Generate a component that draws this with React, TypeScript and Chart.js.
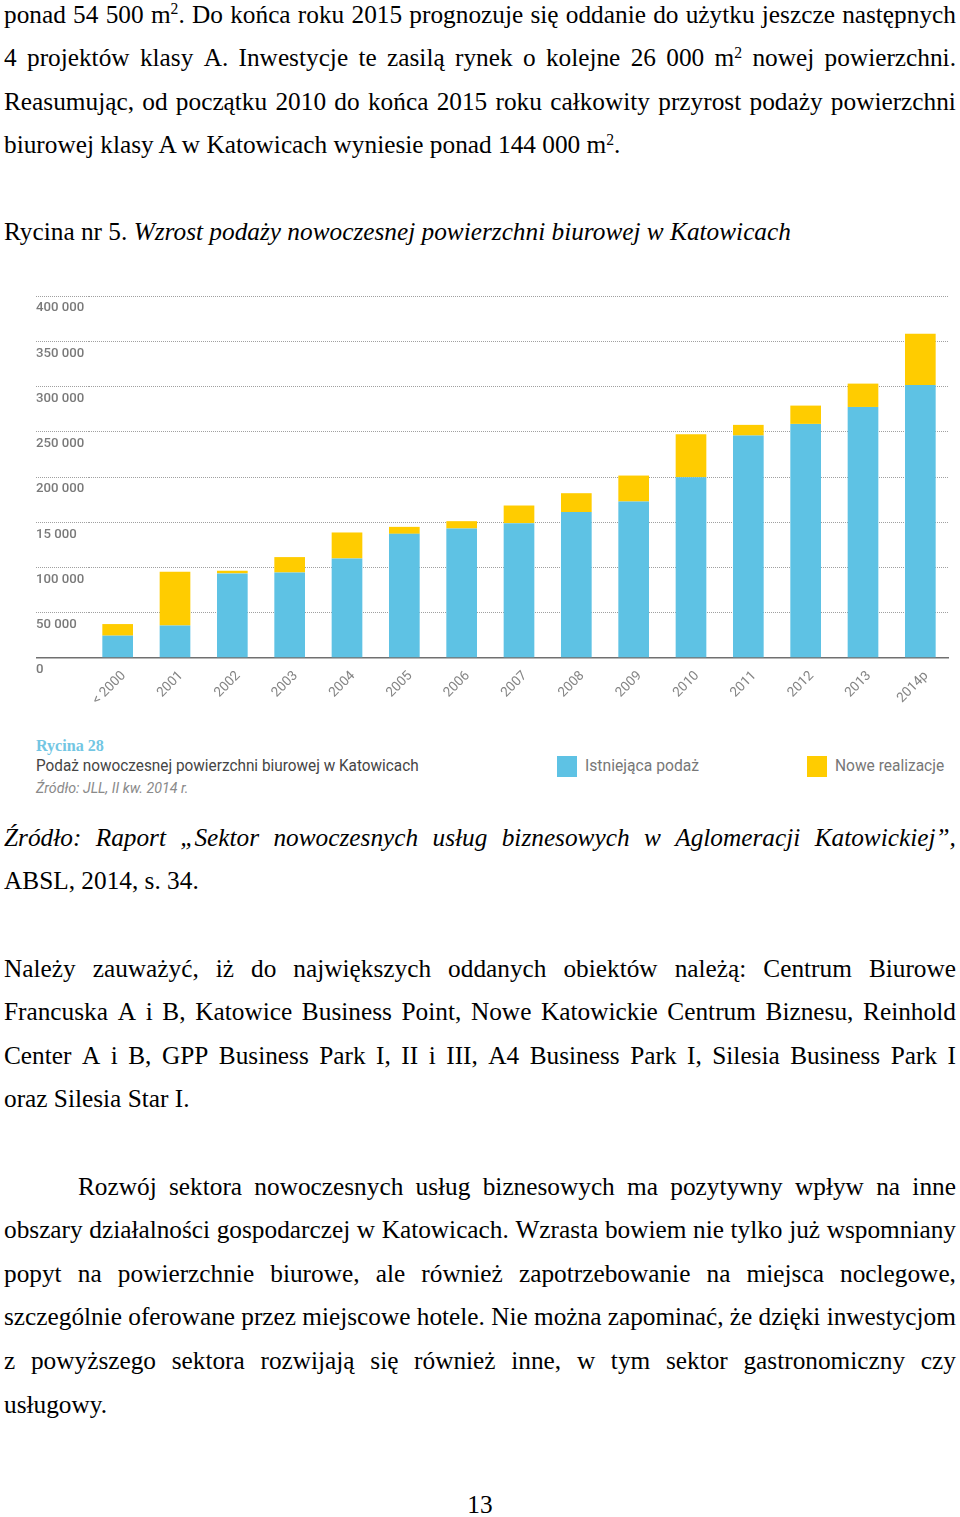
import React, { useEffect, useRef } from "react";
import { Chart, registerables } from "chart.js";

Chart.register(...registerables);

// ---- chart data ----
const categories = ["< 2000", "2001", "2002", "2003", "2004", "2005", "2006", "2007", "2008", "2009", "2010", "2011", "2012", "2013", "2014p"];
const existingSupply = [24700, 36000, 93500, 94500, 110000, 137200, 143100, 149000, 161200, 172900, 199800, 245800, 258700, 277400, 301700];
const newSupply = [12800, 59300, 2900, 17000, 28700, 7700, 8100, 19500, 20900, 28700, 47500, 11800, 20200, 25800, 56700];
const yTickLabels = ["0", "50 000", "100 000", "15 000", "200 000", "250 000", "300 000", "350 000", "400 000"];
const seriesNames = ["Istniejąca podaż", "Nowe realizacje"];

// ---- page text ----
const para1 = [
  "ponad 54 500 m^2. Do końca roku 2015 prognozuje się oddanie do użytku jeszcze następnych",
  "4 projektów klasy A. Inwestycje te zasilą rynek o kolejne 26 000 m^2 nowej powierzchni.",
  "Reasumując, od początku 2010 do końca 2015 roku całkowity przyrost podaży powierzchni",
  "biurowej klasy A w Katowicach wyniesie ponad 144 000 m^2.",
];
const figureLead = "Rycina nr 5. ";
const figureTitle = "Wzrost podaży nowoczesnej powierzchni biurowej w Katowicach";
const sourceLine1 = "Źródło: Raport „Sektor nowoczesnych usług biznesowych w Aglomeracji Katowickiej”,";
const sourceLine2 = "ABSL, 2014, s. 34.";
const para3 = [
  "Należy zauważyć, iż do największych oddanych obiektów należą: Centrum Biurowe",
  "Francuska A i B, Katowice Business Point, Nowe Katowickie Centrum Biznesu, Reinhold",
  "Center A i B, GPP Business Park I, II i III, A4 Business Park I, Silesia Business Park I",
  "oraz Silesia Star I.",
];
const para4 = [
  "Rozwój sektora nowoczesnych usług biznesowych ma pozytywny wpływ na inne",
  "obszary działalności gospodarczej w Katowicach. Wzrasta bowiem nie tylko już wspomniany",
  "popyt na powierzchnie biurowe, ale również zapotrzebowanie na miejsca noclegowe,",
  "szczególnie oferowane przez miejscowe hotele. Nie można zapominać, że dzięki inwestycjom",
  "z powyższego sektora rozwijają się również inne, w tym sektor gastronomiczny czy",
  "usługowy.",
];
const pageNumber = "13";
const captionNumber = "Rycina 28";
const captionTitle = "Podaż nowoczesnej powierzchni biurowej w Katowicach";
const captionSource = "Źródło: JLL, II kw. 2014 r.";

const BLUE = "#5ec2e4";
const YELLOW = "#ffcc00";
const SERIF = '"Liberation Serif", "Times New Roman", serif';
const SANS = 'Roboto, "Noto Sans", sans-serif';
const FS = 25.3;
const LH = 43.65;

function Word({ w }: { w: string }) {
  const parts = w.split("^");
  return (
    <span style={{ whiteSpace: "nowrap" }}>
      {parts[0]}
      {parts.length > 1 ? (
        <>
          <span style={{ fontSize: "0.62em", position: "relative", top: "-0.55em", lineHeight: 0 }}>{parts[1].charAt(0)}</span>
          {parts[1].slice(1)}
        </>
      ) : null}
    </span>
  );
}

function TextLine({ text, top, justify, italic, indent = 0 }: { text: string; top: number; justify: boolean; italic?: boolean; indent?: number }) {
  const words = text.split(" ");
  const base: React.CSSProperties = {
    position: "absolute",
    top,
    left: 4 + indent,
    width: 952 - indent,
    height: LH,
    lineHeight: LH + "px",
    fontFamily: SERIF,
    fontSize: FS,
    fontStyle: italic ? "italic" : "normal",
    color: "#000",
    whiteSpace: "nowrap",
  };
  if (justify) {
    return (
      <div style={{ ...base, display: "flex", justifyContent: "space-between", alignItems: "baseline" }}>
        {words.map((w, i) => (
          <Word key={i} w={w} />
        ))}
      </div>
    );
  }
  return (
    <div style={base}>
      {words.map((w, i) => (
        <React.Fragment key={i}>
          <Word w={w} />
          {i < words.length - 1 ? " " : ""}
        </React.Fragment>
      ))}
    </div>
  );
}

function Condensed({ text, left, top, size, scale, color, italic, weight }: { text: string; left: number; top: number; size: number; scale: number; color: string; italic?: boolean; weight?: number }) {
  return (
    <div
      style={{
        position: "absolute",
        left,
        top,
        fontFamily: SANS,
        fontSize: size,
        fontStyle: italic ? "italic" : "normal",
        fontWeight: weight || 400,
        lineHeight: "20px",
        color,
        whiteSpace: "nowrap",
        transform: `scaleX(${scale})`,
        transformOrigin: "left center",
      }}
    >
      {text}
    </div>
  );
}

function BarChart() {
  const ref = useRef<HTMLCanvasElement | null>(null);
  useEffect(() => {
    if (!ref.current) return;
    const isZero = (ctx: any) => ctx && ctx.tick && ctx.tick.value === 0;
    const chart = new Chart(ref.current, {
      type: "bar",
      data: {
        labels: categories,
        datasets: [
          { label: seriesNames[0], data: existingSupply, backgroundColor: BLUE, barPercentage: 0.535, categoryPercentage: 1, borderWidth: 0 },
          { label: seriesNames[1], data: newSupply, backgroundColor: YELLOW, barPercentage: 0.535, categoryPercentage: 1, borderWidth: 0 },
        ],
      },
      options: {
        animation: false,
        responsive: true,
        maintainAspectRatio: false,
        layout: { padding: { top: 16, left: 36, right: 11, bottom: 2 } },
        plugins: { legend: { display: false }, tooltip: { enabled: false } },
        scales: {
          x: {
            stacked: true,
            grid: { display: false, drawTicks: false },
            border: { display: false },
            ticks: {
              color: "#858585",
              font: { family: SANS, size: 13.5 },
              maxRotation: 45,
              minRotation: 45,
              autoSkip: false,
              padding: 10,
              labelOffset: 6,
            },
            afterFit: (s: any) => {
              s.height = 50;
            },
          },
          y: {
            stacked: true,
            min: 0,
            max: 400000,
            ticks: {
              stepSize: 50000,
              mirror: true,
              padding: -53,
              labelOffset: 12,
              color: "#7a7a7a",
              font: { family: SANS, size: 13.2, weight: "500" },
              callback: (_v: any, i: number) => yTickLabels[i],
            },
            grid: {
              color: (ctx: any) => (isZero(ctx) ? "#707070" : "#a0a0a0"),
              lineWidth: (ctx: any) => (isZero(ctx) ? 1.6 : 1),
              tickLength: 53,
              tickColor: (ctx: any) => (isZero(ctx) ? "#707070" : "#a0a0a0"),
              tickWidth: (ctx: any) => (isZero(ctx) ? 1.6 : 1),
              tickBorderDash: (ctx: any) => (isZero(ctx) ? [] : [1, 1]),
            },
            border: { display: false, dash: (ctx: any) => (isZero(ctx) ? [] : [1, 1]) },
            afterFit: (s: any) => {
              s.width = 53;
            },
          },
        },
      },
    } as any);
    return () => chart.destroy();
  }, []);
  return (
    <div style={{ position: "absolute", left: 0, top: 280, width: 960, height: 430 }}>
      <canvas ref={ref} />
    </div>
  );
}

export default function App() {
  const step = LH;
  return (
    <div style={{ position: "absolute", left: 0, top: 0, width: 960, height: 1517, background: "#fff", overflow: "hidden" }}>
      {para1.map((t, i) => (
        <TextLine key={"p1" + i} text={t} top={-7.5 + i * step} justify={i < para1.length - 1} />
      ))}
      <div style={{ position: "absolute", top: 210, left: 4, lineHeight: LH + "px", fontFamily: SERIF, fontSize: FS, whiteSpace: "nowrap" }}>
        {figureLead}
        <span style={{ fontStyle: "italic" }}>{figureTitle}</span>
      </div>

      <BarChart />

      {/* figure caption and legend */}
      <div style={{ position: "absolute", left: 36, top: 735, fontFamily: SERIF, fontSize: 17.5, fontWeight: 700, lineHeight: "20px", color: "#72c6e3", whiteSpace: "nowrap", transform: "scaleX(0.92)", transformOrigin: "left center" }}>
        {captionNumber}
      </div>
      <Condensed text={captionTitle} left={36} top={756} size={16.5} scale={0.93} color="#454545" />
      <Condensed text={captionSource} left={36} top={778} size={15} scale={0.95} color="#8a8a8a" italic />
      <div style={{ position: "absolute", left: 557, top: 756, width: 20, height: 21, background: BLUE }} />
      <Condensed text={seriesNames[0]} left={585} top={756} size={16.5} scale={0.95} color="#777" />
      <div style={{ position: "absolute", left: 807, top: 756, width: 20, height: 21, background: YELLOW }} />
      <Condensed text={seriesNames[1]} left={835} top={756} size={16.5} scale={0.94} color="#777" />

      <TextLine text={sourceLine1} top={815.5} justify italic />
      <TextLine text={sourceLine2} top={815.5 + step} justify={false} />

      {para3.map((t, i) => (
        <TextLine key={"p3" + i} text={t} top={946.5 + i * step} justify={i < para3.length - 1} />
      ))}
      {para4.map((t, i) => (
        <TextLine key={"p4" + i} text={t} top={1164.5 + i * step} justify={i < para4.length - 1} indent={i === 0 ? 74 : 0} />
      ))}

      <div style={{ position: "absolute", top: 1483, left: 0, width: 960, textAlign: "center", lineHeight: LH + "px", fontFamily: SERIF, fontSize: FS }}>
        {pageNumber}
      </div>
    </div>
  );
}
